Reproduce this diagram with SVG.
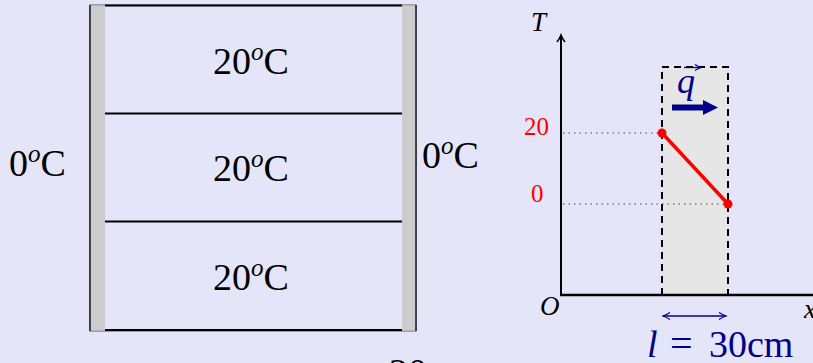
<svg xmlns="http://www.w3.org/2000/svg" width="813" height="363" viewBox="0 0 813 363">
<style>
.bg{fill:#e4e5f8}
.t{font-family:"Liberation Serif","DejaVu Serif",serif;fill:#000}
.big{font-size:38px}
.sup{font-style:italic;font-size:25px}
.it{font-style:italic}
.red{fill:#ff0000}
.blue{fill:#000088}
.wall{fill:#cccccc}
.ln{stroke:#000;stroke-width:2;fill:none}
.dot{stroke:#444;stroke-width:1.2;stroke-dasharray:1.5 4;fill:none}
.dash{stroke:#000;stroke-width:2;stroke-dasharray:7 5;fill:none}
</style>
<defs>
<marker id="ax" markerWidth="10" markerHeight="10" refX="8" refY="5" orient="auto" markerUnits="userSpaceOnUse">
<path d="M1,1 Q5,4 8,5 Q5,6 1,9" fill="none" stroke="#000" stroke-width="1.5"/>
</marker>
<marker id="bl" markerWidth="10" markerHeight="10" refX="8" refY="5" orient="auto-start-reverse" markerUnits="userSpaceOnUse">
<path d="M1,1.5 Q5,4 8,5 Q5,6 1,8.5" fill="none" stroke="#000088" stroke-width="1.2"/>
</marker>
<marker id="sm" markerWidth="10" markerHeight="10" refX="8" refY="5" orient="auto" markerUnits="userSpaceOnUse">
<path d="M2,2 Q5,4 8,5 Q5,6 2,8" fill="none" stroke="#000088" stroke-width="1.2"/>
</marker>
</defs>
<rect class="bg" x="0" y="0" width="813" height="363"/>

<g id="slab">
<rect x="90" y="5" width="326" height="326" fill="none" stroke="#555" stroke-width="1"/>
<rect class="wall" x="90.5" y="5.5" width="14.5" height="325"/>
<rect class="wall" x="402" y="5.5" width="13.5" height="325"/>
<line x1="90" y1="5" x2="90" y2="331" stroke="#000" stroke-width="1.2"/>
<line x1="416" y1="5" x2="416" y2="331" stroke="#000" stroke-width="1.2"/>
<line class="ln" x1="105" y1="5.5" x2="402" y2="5.5"/>
<line class="ln" x1="105" y1="113.5" x2="402" y2="113.5"/>
<line class="ln" x1="105" y1="221.5" x2="402" y2="221.5"/>
<line class="ln" x1="105" y1="330" x2="402" y2="330"/>
</g>
<g id="layer1"><text class="t big" x="251" y="74" text-anchor="middle">20<tspan class="sup" dy="-14">o</tspan><tspan dy="14">C</tspan></text></g>
<g id="layer2"><text class="t big" x="251" y="181" text-anchor="middle">20<tspan class="sup" dy="-14">o</tspan><tspan dy="14">C</tspan></text></g>
<g id="layer3"><text class="t big" x="251" y="290" text-anchor="middle">20<tspan class="sup" dy="-14">o</tspan><tspan dy="14">C</tspan></text></g>
<g id="left-temp"><text class="t big" x="9" y="176">0<tspan class="sup" dy="-14">o</tspan><tspan dy="14">C</tspan></text></g>
<g id="right-temp"><text class="t big" x="422" y="168">0<tspan class="sup" dy="-14">o</tspan><tspan dy="14">C</tspan></text></g>
<g id="cut-text"><text class="t big" x="389" y="385">20</text></g>

<g id="graph">
<rect x="662" y="67" width="66" height="228" fill="#e6e6e6"/>
<path class="dash" d="M662,295 V67 H728 V295"/>
<line class="dot" x1="563" y1="133" x2="662" y2="133"/>
<line class="dot" x1="563" y1="204" x2="728" y2="204"/>
</g>
<g id="connectors">
<line x1="561" y1="296" x2="561" y2="35" stroke="#000" stroke-width="2" marker-end="url(#ax)"/>
<line x1="560" y1="295" x2="813" y2="295" stroke="#000" stroke-width="2.5"/>
<line x1="662" y1="133" x2="728" y2="204" stroke="#ff0000" stroke-width="3.5"/>
<line x1="663" y1="316" x2="726" y2="316" stroke="#000088" stroke-width="1.3" marker-start="url(#bl)" marker-end="url(#bl)"/>
<path d="M672,104.5 H703 V100 L718,107.5 L703,115 V110.5 H672 Z" fill="#000088"/>
</g>
<g id="points">
<circle cx="662" cy="133" r="4.5" fill="#ff0000"/>
<circle cx="728" cy="204" r="4.5" fill="#ff0000"/>
</g>
<g id="labels">
<text class="t it" x="531" y="31" font-size="27">T</text>
<text class="t it" x="540" y="315" font-size="27">O</text>
<text class="t it" x="804" y="318" font-size="27">x</text>
<text class="t red" x="524" y="135" font-size="25">20</text>
<text class="t red" x="531" y="202" font-size="25">0</text>
<text class="t it blue" x="677" y="93" font-size="36">q</text>
<line x1="684" y1="67.5" x2="701" y2="67.5" stroke="#000088" stroke-width="1.3" marker-end="url(#sm)"/>
<text class="t it blue" x="647" y="357" font-size="38">l</text>
<text class="t blue" x="670" y="357" font-size="40">=</text>
<text class="t blue" x="709" y="357" font-size="38">30cm</text>
</g>
</svg>
